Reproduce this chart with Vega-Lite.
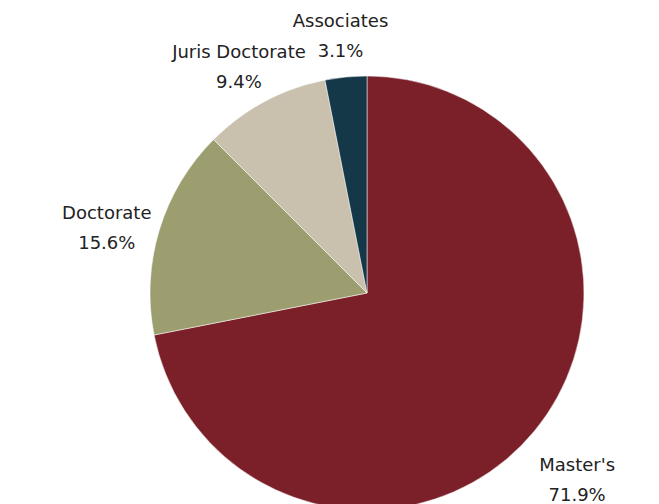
{
  "$schema": "https://vega.github.io/schema/vega-lite/v6.json",
  "width": 584,
  "height": 422,
  "autosize": {"type": "none"},
  "padding": {"left": 75, "top": 82, "right": 0, "bottom": 0},
  "background": "white",
  "title": {"text": "2)", "anchor": "start", "frame": "group", "dx": -82, "offset": 72, "baseline": "alphabetic", "fontSize": 24, "fontWeight": "normal", "font": "DejaVu Sans", "color": "#222222"},
  "data": {"values": [
    {"category": "Master's", "pct": 71.9, "ord": 1},
    {"category": "Doctorate", "pct": 15.6, "ord": 2},
    {"category": "Juris Doctorate", "pct": 9.4, "ord": 3},
    {"category": "Associates", "pct": 3.1, "ord": 4}
  ]},
  "transform": [
    {"calculate": "[datum.category, format(datum.pct, '.1f') + '%']", "as": "lbl"}
  ],
  "encoding": {
    "theta": {"field": "pct", "type": "quantitative", "stack": true},
    "order": {"field": "ord", "type": "quantitative"},
    "color": {"field": "category", "type": "nominal", "legend": null,
      "scale": {"domain": ["Master's", "Doctorate", "Juris Doctorate", "Associates"],
                "range": ["#7B2029", "#9C9E70", "#C9C1AE", "#143847"]}}
  },
  "layer": [
    {"mark": {"type": "arc", "outerRadius": 217, "stroke": "white", "strokeWidth": 0.5}},
    {"mark": {"type": "text", "radius": 272, "font": "DejaVu Sans", "fontSize": 18, "lineHeight": 30, "baseline": "middle", "align": "center"},
     "encoding": {"text": {"field": "lbl"}, "color": {"value": "#222222"}}}
  ]
}
